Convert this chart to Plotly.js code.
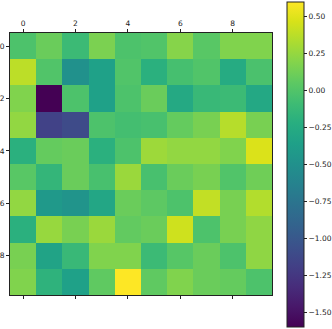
<!DOCTYPE html>
<html>
<head>
<meta charset="utf-8">
<script src="https://cdn.plot.ly/plotly-3.0.1.min.js"></script>
<style>
  html, body { margin: 0; padding: 0; background: white; }
  #heat { width: 332px; height: 329px; }
</style>
</head>
<body>
<div id="heat"></div>
<script>
	"use strict";

	// row / column indices of the matrix
	var rowIdx = [0, 1, 2, 3, 4, 5, 6, 7, 8, 9];
	var colIdx = [0, 1, 2, 3, 4, 5, 6, 7, 8, 9];

	// matrix values, one array per row
	var row0 = [-0.02, 0.10, -0.10, 0.16, -0.02, 0.00, 0.20, 0.03, 0.18, 0.18];
	var row1 = [0.38, 0.00, -0.50, -0.35, 0.00, -0.20, -0.05, 0.00, -0.25, -0.03];
	var row2 = [0.18, -1.60, -0.02, -0.35, -0.02, 0.10, -0.27, -0.12, -0.10, -0.28];
	var row3 = [0.24, -1.17, -1.10, -0.02, -0.06, -0.04, 0.08, 0.15, 0.36, 0.15];
	var row4 = [-0.20, 0.08, 0.10, -0.20, -0.02, 0.28, 0.24, 0.24, 0.18, 0.48];
	var row5 = [0.03, -0.15, 0.10, -0.04, 0.27, -0.04, 0.10, 0.15, 0.00, 0.12];
	var row6 = [0.24, -0.42, -0.47, -0.30, 0.10, 0.05, -0.02, 0.40, 0.15, 0.35];
	var row7 = [-0.20, 0.26, 0.15, 0.27, 0.07, 0.10, 0.44, -0.02, 0.15, 0.23];
	var row8 = [0.15, -0.33, -0.12, 0.18, 0.18, -0.10, 0.02, 0.10, -0.02, 0.23];
	var row9 = [0.18, -0.18, -0.35, 0.06, 0.60, 0.06, 0.18, 0.10, 0.08, -0.02];

	var tickPos = [0, 2, 4, 6, 8];
	var cbTicks = [0.50, 0.25, 0.00, -0.25, -0.50, -0.75, -1.00, -1.25, -1.50];

	var zData = [row0, row1, row2, row3, row4, row5, row6, row7, row8, row9];

	var trace = {
		type: 'heatmap',
		x: colIdx,
		y: rowIdx,
		z: zData,
		colorscale: 'Viridis',
		zmin: -1.60,
		zmax: 0.60,
		hoverinfo: 'none',
		colorbar: {
			x: 1.057,
			xanchor: 'left',
			xpad: 0,
			y: 0.498,
			yanchor: 'middle',
			ypad: 0,
			lenmode: 'pixels',
			len: 325,
			thicknessmode: 'pixels',
			thickness: 17,
			outlinewidth: 1,
			outlinecolor: '#222',
			tickvals: cbTicks,
			tickformat: '.2f',
			ticks: 'outside',
			ticklen: 3,
			tickcolor: '#222',
			tickfont: { size: 7.5, color: '#222' }
		}
	};

	var layout = {
		width: 332,
		height: 329,
		margin: { l: 10, r: 60, t: 33, b: 34, autoexpand: false },
		paper_bgcolor: 'white',
		plot_bgcolor: 'white',
		font: { family: 'DejaVu Sans', size: 7.5, color: '#222' },
		xaxis: {
			side: 'top',
			range: [-0.5, 9.5],
			tickvals: tickPos,
			ticks: 'outside',
			ticklen: 3,
			tickcolor: '#222',
			showline: true,
			linecolor: '#222',
			linewidth: 1,
			mirror: 'ticks',
			showgrid: false,
			zeroline: false,
			automargin: false
		},
		yaxis: {
			range: [9.5, -0.5],
			tickvals: tickPos,
			ticks: 'outside',
			ticklen: 3,
			tickcolor: '#222',
			showline: true,
			linecolor: '#222',
			linewidth: 1,
			mirror: true,
			showgrid: false,
			zeroline: false,
			automargin: false
		}
	};

	Plotly.newPlot('heat', [trace], layout, { displayModeBar: false, staticPlot: true });
</script>
</body>
</html>
